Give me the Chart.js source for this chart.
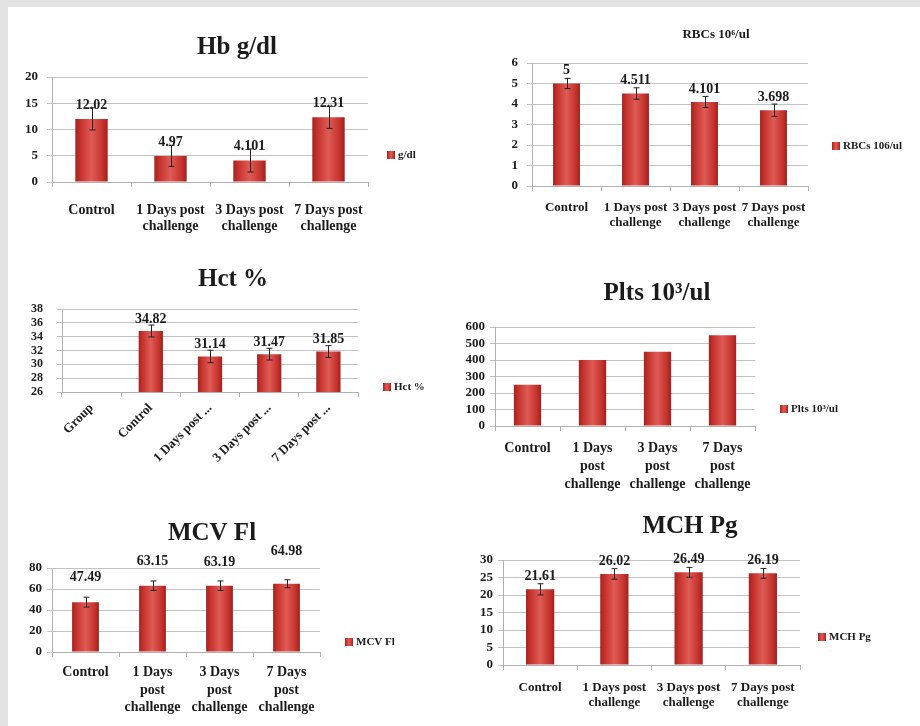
<!DOCTYPE html>
<html>
<head>
<meta charset="utf-8">
<script src="https://cdn.jsdelivr.net/npm/chart.js@4.4.1/dist/chart.umd.min.js"></script>
<style>
  html, body { margin: 0; padding: 0; width: 920px; height: 726px; overflow: hidden; background: #e3e3e3; }
  #sheet { position: absolute; left: 8px; top: 7px; width: 912px; height: 719px; background: #ffffff; }
  #charts { position: absolute; left: 0; top: 0; width: 920px; height: 726px; filter: blur(0.6px); }
  #charts canvas { position: absolute; left: 0; top: 0; }
</style>
</head>
<body>
<div id="sheet"></div>
<div id="charts">
  <canvas id="hb" width="920" height="726"></canvas>
  <canvas id="rbc" width="920" height="726"></canvas>
  <canvas id="hct" width="920" height="726"></canvas>
  <canvas id="plt" width="920" height="726"></canvas>
  <canvas id="mcv" width="920" height="726"></canvas>
  <canvas id="mch" width="920" height="726"></canvas>
</div>
<script>
// ---- Group labels ----
const groupsTwoLine = ["Control", ["1 Days post", "challenge"], ["3 Days post", "challenge"], ["7 Days post", "challenge"]];
const groupsThreeLine = ["Control", ["1 Days", "post", "challenge"], ["3 Days", "post", "challenge"], ["7 Days", "post", "challenge"]];
const groupsHct = ["Group", "Control", "1 Days post ...", "3 Days post ...", "7 Days post ..."];

// ---- Hb g/dl ----
const hbValues = [12.02, 4.97, 4.101, 12.31];
const hbErrors = [2.1, 2.0, 2.2, 2.1];
const hbTicks = { min: 0, max: 20, step: 5 };

// ---- RBCs 10^6/ul ----
const rbcValues = [5, 4.511, 4.101, 3.698];
const rbcErrors = [0.25, 0.28, 0.27, 0.3];
const rbcTicks = { min: 0, max: 6, step: 1 };

// ---- Hct % ----
const hctValues = [null, 34.82, 31.14, 31.47, 31.85];
const hctErrors = [null, 0.86, 0.9, 0.85, 0.85];
const hctTicks = { min: 26, max: 38, step: 2 };

// ---- Plts 10^3/ul ----
const pltValues = [250, 400, 450, 550];
const pltTicks = { min: 0, max: 600, step: 100 };

// ---- MCV Fl ----
const mcvValues = [47.49, 63.15, 63.19, 64.98];
const mcvErrors = [4.7, 4.5, 4.5, 3.8];
const mcvTicks = { min: 0, max: 80, step: 20 };

// ---- MCH Pg ----
const mchValues = [21.61, 26.02, 26.49, 26.19];
const mchErrors = [1.6, 1.5, 1.4, 1.4];
const mchTicks = { min: 0, max: 30, step: 5 };

const SERIF = "'Liberation Serif', 'Times New Roman', serif";
const INK = '#1b1b1b';
const GRID = '#c2c2c2';
const AXIS = '#b0b0b0';

// Cylinder-like red shading across each bar
function shadeStops(g) {
  g.addColorStop(0, '#a22320');
  g.addColorStop(0.16, '#c6322d');
  g.addColorStop(0.5, '#df5b55');
  g.addColorStop(0.84, '#c6322d');
  g.addColorStop(1, '#9e211e');
  return g;
}

function barFill(c) {
  const chart = c.chart;
  if (!chart.chartArea || c.type !== 'data') return '#c6322d';
  const xs = chart.scales.x;
  const cx = xs.getPixelForValue(c.dataIndex);
  const slot = xs.width / xs.getLabels().length;
  const half = slot * c.dataset.barPercentage / 2;
  return shadeStops(chart.ctx.createLinearGradient(cx - half, 0, cx + half, 0));
}

// Title, legend entry, value labels and error bars for each panel
const panelPlugin = {
  id: 'panel',
  afterDatasetsDraw(chart, args, o) {
    const ctx = chart.ctx;
    const meta = chart.getDatasetMeta(0);
    const ys = chart.scales.y;
    const values = chart.data.datasets[0].data;
    if (o.showValues) {
      ctx.save();
      ctx.fillStyle = INK;
      ctx.font = 'bold ' + o.valueSize + 'px ' + SERIF;
      ctx.textAlign = 'center';
      ctx.textBaseline = 'middle';
      meta.data.forEach((bar, i) => {
        const v = values[i];
        if (v == null) return;
        const off = Array.isArray(o.valueOffset) ? o.valueOffset[i] : o.valueOffset;
        ctx.fillText(String(v), bar.x, bar.y - off);
      });
      ctx.restore();
    }
    if (o.errors) {
      ctx.save();
      ctx.strokeStyle = '#222';
      ctx.lineWidth = 1;
      meta.data.forEach((bar, i) => {
        const v = values[i], e = o.errors[i];
        if (v == null || e == null) return;
        const x = Math.round(bar.x) + 0.5;
        const yt = ys.getPixelForValue(v + e);
        const yb = ys.getPixelForValue(v - e);
        ctx.beginPath();
        ctx.moveTo(x, yt); ctx.lineTo(x, yb);
        ctx.moveTo(x - 3, yt); ctx.lineTo(x + 3, yt);
        ctx.moveTo(x - 3, yb); ctx.lineTo(x + 3, yb);
        ctx.stroke();
      });
      ctx.restore();
    }
  },
  afterDraw(chart, args, o) {
    const ctx = chart.ctx;
    ctx.save();
    // title
    ctx.fillStyle = INK;
    ctx.font = 'bold ' + o.titleSize + 'px ' + SERIF;
    ctx.textAlign = 'center';
    ctx.textBaseline = 'middle';
    ctx.fillText(o.title, o.titleX, o.titleY);
    // legend entry
    const lx = o.legendX, ly = o.legendY;
    ctx.fillStyle = shadeStops(ctx.createLinearGradient(lx, 0, lx + 8, 0));
    ctx.fillRect(lx, ly - 4, 8, 8);
    ctx.fillStyle = INK;
    ctx.font = 'bold 11px ' + SERIF;
    ctx.textAlign = 'left';
    ctx.fillText(o.legendText, lx + 11, ly + 0.5);
    ctx.restore();
  }
};

function makePanel(id, p) {
  const W = 920, H = 726;
  const yW = p.yAxisWidth, xH = 80;
  new Chart(document.getElementById(id), {
    type: 'bar',
    data: {
      labels: p.labels,
      datasets: [{
        label: p.legendText,
        data: p.values,
        backgroundColor: barFill,
        borderWidth: 0,
        barPercentage: p.barPct,
        categoryPercentage: 1
      }]
    },
    options: {
      responsive: false,
      animation: false,
      devicePixelRatio: 1,
      layout: {
        padding: {
          left: p.plot.left - yW,
          right: W - p.plot.right,
          top: p.plot.top,
          bottom: H - p.plot.bottom - xH
        }
      },
      plugins: {
        legend: { display: false },
        title: { display: false },
        tooltip: { enabled: false },
        panel: {
          title: p.title, titleSize: p.titleSize, titleX: p.titleX, titleY: p.titleY,
          legendText: p.legendText, legendX: p.legendX, legendY: p.legendY,
          showValues: p.showValues, valueSize: 14, valueOffset: p.valueOffset,
          errors: p.errors || null
        }
      },
      scales: {
        x: {
          offset: true,
          afterFit: s => { s.height = xH; },
          grid: { display: true, drawOnChartArea: false, offset: true, tickLength: 5, color: AXIS },
          border: { display: true, color: AXIS, width: 1 },
          ticks: {
            autoSkip: false,
            minRotation: p.rotation || 0,
            maxRotation: p.rotation || 0,
            padding: p.xPad,
            color: INK,
            font: { family: SERIF, weight: 'bold', size: p.xFont || 13, lineHeight: p.xLine + 'px' }
          }
        },
        y: {
          min: p.ticks.min,
          max: p.ticks.max,
          afterFit: s => { s.width = yW; },
          grid: { color: GRID, lineWidth: 1, tickLength: 5, drawTicks: true },
          border: { display: true, color: AXIS, width: 1 },
          ticks: {
            stepSize: p.ticks.step,
            autoSkip: false,
            maxTicksLimit: 20,
            padding: p.yPad,
            color: INK,
            font: { family: SERIF, weight: 'bold', size: p.yFont || 13, lineHeight: 0.8 }
          }
        }
      }
    },
    plugins: [panelPlugin]
  });
}

makePanel('hb', {
  labels: groupsTwoLine, values: hbValues, errors: hbErrors, ticks: hbTicks,
  plot: { left: 52, right: 368, top: 77, bottom: 182 }, yAxisWidth: 30, yPad: 9,
  barPct: 0.41, xPad: 15, xLine: 16, xFont: 14,
  title: 'Hb g/dl', titleSize: 25, titleX: 237, titleY: 48,
  legendText: 'g/dl', legendX: 387, legendY: 155,
  showValues: true, valueOffset: 14
});

makePanel('rbc', {
  labels: groupsTwoLine, values: rbcValues, errors: rbcErrors, ticks: rbcTicks,
  plot: { left: 532, right: 808, top: 63, bottom: 186 }, yAxisWidth: 30, yPad: 9,
  barPct: 0.39, xPad: 9, xLine: 15,
  title: 'RBCs 10\u2076/ul', titleSize: 13, titleX: 716, titleY: 35,
  legendText: 'RBCs 106/ul', legendX: 832, legendY: 146,
  showValues: true, valueOffset: 13
});

makePanel('hct', {
  labels: groupsHct, values: hctValues, errors: hctErrors, ticks: hctTicks,
  plot: { left: 62, right: 358, top: 309, bottom: 392 }, yAxisWidth: 40, yPad: 14, yFont: 12,
  barPct: 0.41, xPad: 4, xLine: 14, rotation: 45, xFont: 13,
  title: 'Hct %', titleSize: 25, titleX: 233, titleY: 280,
  legendText: 'Hct %', legendX: 383, legendY: 387,
  showValues: true, valueOffset: 12
});

makePanel('plt', {
  labels: groupsThreeLine, values: pltValues, ticks: pltTicks,
  plot: { left: 495, right: 755, top: 327, bottom: 426 }, yAxisWidth: 35, yPad: 5,
  barPct: 0.42, xPad: 8, xLine: 18, xFont: 14,
  title: 'Plts 10\u00B3/ul', titleSize: 25, titleX: 657, titleY: 294,
  legendText: 'Plts 10\u00B3/ul', legendX: 780, legendY: 409,
  showValues: false, valueOffset: 0
});

makePanel('mcv', {
  labels: groupsThreeLine, values: mcvValues, errors: mcvErrors, ticks: mcvTicks,
  plot: { left: 52, right: 320, top: 568, bottom: 652 }, yAxisWidth: 30, yPad: 5,
  barPct: 0.40, xPad: 7, xLine: 17.5, xFont: 14,
  title: 'MCV Fl', titleSize: 25, titleX: 212, titleY: 534,
  legendText: 'MCV Fl', legendX: 345, legendY: 642,
  showValues: true, valueOffset: [25, 24, 23, 32]
});

makePanel('mch', {
  labels: groupsTwoLine, values: mchValues, errors: mchErrors, ticks: mchTicks,
  plot: { left: 503, right: 800, top: 560, bottom: 665 }, yAxisWidth: 30, yPad: 5,
  barPct: 0.38, xPad: 10, xLine: 15,
  title: 'MCH Pg', titleSize: 25, titleX: 690, titleY: 527,
  legendText: 'MCH Pg', legendX: 818, legendY: 637,
  showValues: true, valueOffset: 13
});
</script>
</body>
</html>
